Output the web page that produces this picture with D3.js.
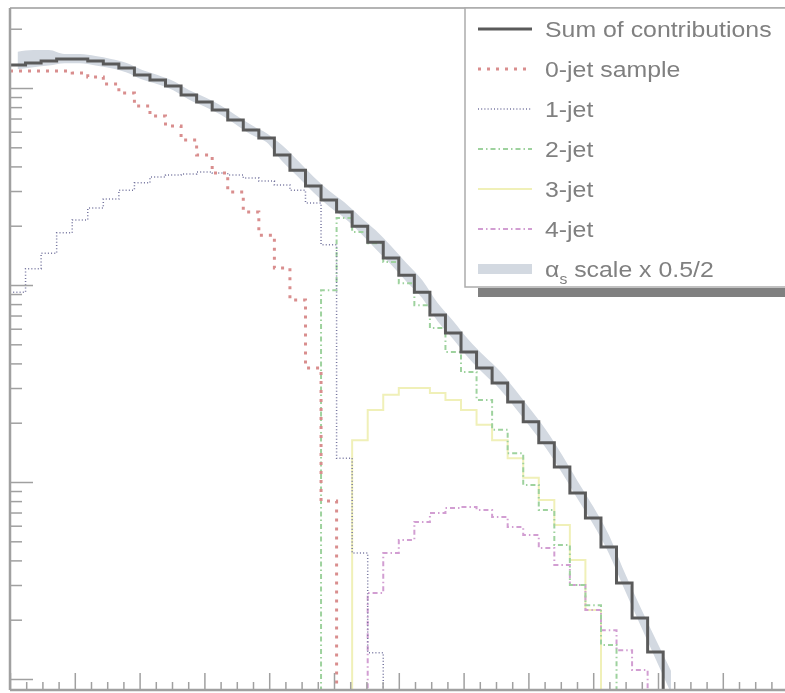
<!DOCTYPE html>
<html><head><meta charset="utf-8">
<script src="https://cdn.jsdelivr.net/npm/d3@7"></script>
<style>html,body{margin:0;padding:0;background:#fff;overflow:hidden}</style>
</head><body><svg id="c" width="785" height="693"></svg>
<script>
// ---- data ----
const binLow = d3.range(0, 258, 6);           // lower edges of the 43 bins (x categories)
const binWidth = 6;
const sumValues = [1309,1340,1371,1403,1403,1371,1324,1264,1164,1098,1024,921,849,773,688,612,557,457,383,318,270,235,199,165,137,112,92,70.4,57.1,45.7,37.9,31.8,25.5,20.2,15.8,11.9,8.8,6.56,4.68,3.07,2.04,1.37,0];
const bandUp   = [1530,1560,1560,1490,1490,1455,1405,1340,1235,1165,1085,976,900,820,730,650,590,512,429,356,302,263,223,190,158,129,106,81,65.7,52.6,43.6,36.6,29.3,23.2,18.2,13.7,10.1,7.5,5.4,3.5,2.35,1.6,1.1];
const bandLow  = [1245,1275,1300,1335,1335,1300,1260,1200,1105,1045,975,875,805,735,655,580,530,425,356,296,251,219,185,153,127,104,86,65.5,53.1,42.5,35.2,29.6,23.7,18.8,14.7,11.1,8.2,6.1,4.35,2.86,1.9,1.27,0.85];
const jet0 = [1219,1219,1219,1219,1191,1137,1048,944,811,721,641,545,457,370,297,235,179,122,84,37.9,8.0,0,0,0,0,0,0,0,0,0,0,0,0,0,0,0,0,0,0,0,0,0,0];
const jet1 = [92,121,145,184,214,246,273,303,330,353,362,366,375,370,362,349,337,322,303,261,160,13.2,4.36,1.36,0,0,0,0,0,0,0,0,0,0,0,0,0,0,0,0,0,0,0];
const jet2 = [0,0,0,0,0,0,0,0,0,0,0,0,0,0,0,0,0,0,0,0,94,219,186,163,131,102,79,60.5,45.7,36.2,26.1,18.4,14.0,9.66,7.21,4.79,3.0,2.37,1.49,0,0,0,0];
const jet3 = [0,0,0,0,0,0,0,0,0,0,0,0,0,0,0,0,0,0,0,0,0,0,16.3,23.2,27.7,30.0,30.0,28.3,26.1,23.2,19.5,16.3,13.2,10.5,8.1,6.05,4.02,2.24,0,0,0,0,0];
const jet4 = [0,0,0,0,0,0,0,0,0,0,0,0,0,0,0,0,0,0,0,0,0,0,0,2.73,4.36,5.08,6.27,6.96,7.38,7.47,7.21,6.64,5.91,5.38,4.62,3.79,3.0,2.24,1.77,1.40,1.11,0,0];
const legendLabels = ["Sum of contributions","0-jet sample","1-jet","2-jet","3-jet","4-jet"];
const xDomain = [0, 300];
const yDomain = [0.8793, 2548];

// ---- layout ----
const svg = d3.select("#c");
const L = 10, R = 787.6, T = 8, B = 690;
const x = d3.scaleLinear().domain(xDomain).range([L, R]);
const y = d3.scaleLog().domain(yDomain).range([B, T]);

const defs = svg.append("defs");
defs.append("filter").attr("id","soft").append("feGaussianBlur").attr("stdDeviation",0.55);
defs.append("clipPath").attr("id","plot").append("rect").attr("x",L).attr("y",T).attr("width",R-L).attr("height",B-T);

const root = svg.append("g").attr("filter","url(#soft)");
root.append("rect").attr("width",785).attr("height",693).attr("fill","#fff");

const plot = root.append("g").attr("clip-path","url(#plot)");
const yv = v => v > 0 ? Math.min(B+3, y(v)) : B+3;

// alpha_s band through bin centres
const band = d3.area()
  .x((d,i) => x(binLow[i] + binWidth/2))
  .y0((d,i) => yv(bandLow[i]))
  .y1((d,i) => yv(bandUp[i]))
  .curve(d3.curveMonotoneX);
plot.append("path").datum(bandUp).attr("d", band).attr("fill","#d3d9e1");

function stepPts(vals){
  const pts = [];
  vals.forEach((v,i) => { pts.push([x(binLow[i]), yv(v)]); pts.push([x(binLow[i]+binWidth), yv(v)]); });
  return pts;
}
const line = d3.line();
const styles = {
  sum:  {color:"#5a5a5a", w:3,   dash:null},
  j0:   {color:"#d98e8e", w:3,   dash:"3,6"},
  j1:   {color:"#74749e", w:1.5, dash:"1,2.2"},
  j2:   {color:"#9ed29e", w:2,   dash:"5,3,1.5,3"},
  j3:   {color:"#f0f0b8", w:2,   dash:null},
  j4:   {color:"#d29ed2", w:2,   dash:"5,3,1.5,3"}
};
const series = [
  {vals: jet3, s: styles.j3},
  {vals: jet4, s: styles.j4},
  {vals: jet2, s: styles.j2},
  {vals: jet1, s: styles.j1},
  {vals: jet0, s: styles.j0},
  {vals: sumValues, s: styles.sum}
];
series.forEach(d => {
  plot.append("path").attr("d", line(stepPts(d.vals))).attr("fill","none")
    .attr("stroke", d.s.color).attr("stroke-width", d.s.w).attr("stroke-dasharray", d.s.dash);
});

// ---- axes / frame ----
const axisCol = "#a0a0a0";
root.append("line").attr("x1",L).attr("x2",785).attr("y1",T).attr("y2",T).attr("stroke","#b4b4b4").attr("stroke-width",2);
root.append("line").attr("x1",L).attr("x2",L).attr("y1",T).attr("y2",B).attr("stroke",axisCol).attr("stroke-width",2.5);
root.append("line").attr("x1",L).attr("x2",785).attr("y1",B).attr("y2",B).attr("stroke",axisCol).attr("stroke-width",2.5);

// x ticks (inward)
const xMajor = d3.range(0, 301, 25);
const xMinor = d3.range(0, 300.01, 6.25).filter(v => v % 25 !== 0);
const xAxisG = root.append("g").attr("transform",`translate(0,${B})`);
xAxisG.call(d3.axisTop(x).tickValues(xMajor).tickSize(17).tickFormat(""));
xAxisG.append("g").call(d3.axisTop(x).tickValues(xMinor).tickSize(8).tickFormat(""));
xAxisG.selectAll(".domain").remove();
xAxisG.selectAll("line").attr("stroke",axisCol).attr("stroke-width",1.5);

// y ticks (inward)
const yMajor = [1,10,100,1000];
const yMinor = [];
yMajor.forEach(d => { for (let k=2;k<=9;k++){ const v=d*k; if (v>=yDomain[0] && v<=yDomain[1]) yMinor.push(v);} });
const yAxisG = root.append("g").attr("transform",`translate(${L},0)`);
yAxisG.call(d3.axisRight(y).tickValues(yMajor).tickSize(23).tickFormat(""));
yAxisG.append("g").call(d3.axisRight(y).tickValues(yMinor).tickSize(12).tickFormat(""));
yAxisG.selectAll(".domain").remove();
yAxisG.selectAll("line").attr("stroke",axisCol).attr("stroke-width",1.5);

// ---- legend ----
const lg = root.append("g");
lg.append("rect").attr("x",478).attr("y",288).attr("width",320).attr("height",9).attr("fill","#808080");
lg.append("rect").attr("x",465).attr("y",T).attr("width",330).attr("height",279).attr("fill","#fff")
  .attr("stroke","#acacac").attr("stroke-width",1.5);
const rowY = d3.range(7).map(i => 37 + 40*i);
const samples = [styles.sum, styles.j0, styles.j1, styles.j2, styles.j3, styles.j4];
samples.forEach((s,i) => {
  lg.append("line").attr("x1",478).attr("x2",532).attr("y1",rowY[i]-8).attr("y2",rowY[i]-8)
    .attr("stroke",s.color).attr("stroke-width",s.w).attr("stroke-dasharray",s.dash);
  lg.append("text").attr("transform",`translate(545,${rowY[i]}) scale(1.13,1)`)
    .attr("font-family","Liberation Sans, Arial, sans-serif").attr("font-size",22).attr("fill","#808080")
    .text(legendLabels[i]);
});
lg.append("rect").attr("x",478).attr("y",rowY[6]-13).attr("width",54).attr("height",10).attr("fill","#d3d9e1");
const at = lg.append("text").attr("transform",`translate(545,${rowY[6]}) scale(1.13,1)`)
  .attr("font-family","Liberation Sans, Arial, sans-serif").attr("font-size",22).attr("fill","#808080");
at.append("tspan").text("α");
at.append("tspan").attr("font-size",14).attr("dy",7).text("s");
at.append("tspan").attr("dy",-7).text(" scale x 0.5/2");
</script></body></html>
